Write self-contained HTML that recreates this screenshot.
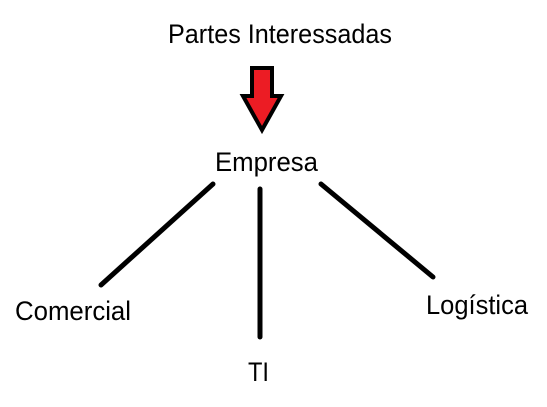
<!DOCTYPE html>
<html><head><meta charset="utf-8"><style>
html,body{margin:0;padding:0;background:#fff;width:547px;height:407px;overflow:hidden}
svg{display:block}
text{font-family:"Liberation Sans",sans-serif;font-size:27px;fill:#000}
</style></head><body>
<svg width="547" height="407" viewBox="0 0 547 407">
<text x="168" y="43" textLength="224" lengthAdjust="spacingAndGlyphs">Partes Interessadas</text>
<polygon points="252,68 272,68 272,96 281,96 262,130 243,96 252,96" fill="#ec1c24" stroke="#000" stroke-width="4" stroke-linejoin="miter"/>
<text x="215" y="171" textLength="103" lengthAdjust="spacingAndGlyphs">Empresa</text>
<g stroke="#000" stroke-width="5" stroke-linecap="round">
<line x1="213" y1="184" x2="101" y2="285"/>
<line x1="260" y1="189" x2="260" y2="337"/>
<line x1="321" y1="184" x2="433" y2="277"/>
</g>
<text x="15" y="320" textLength="116" lengthAdjust="spacingAndGlyphs">Comercial</text>
<text x="426" y="314" textLength="102" lengthAdjust="spacingAndGlyphs">Logística</text>
<text x="248" y="381" textLength="21" lengthAdjust="spacingAndGlyphs">TI</text>
</svg>
</body></html>
